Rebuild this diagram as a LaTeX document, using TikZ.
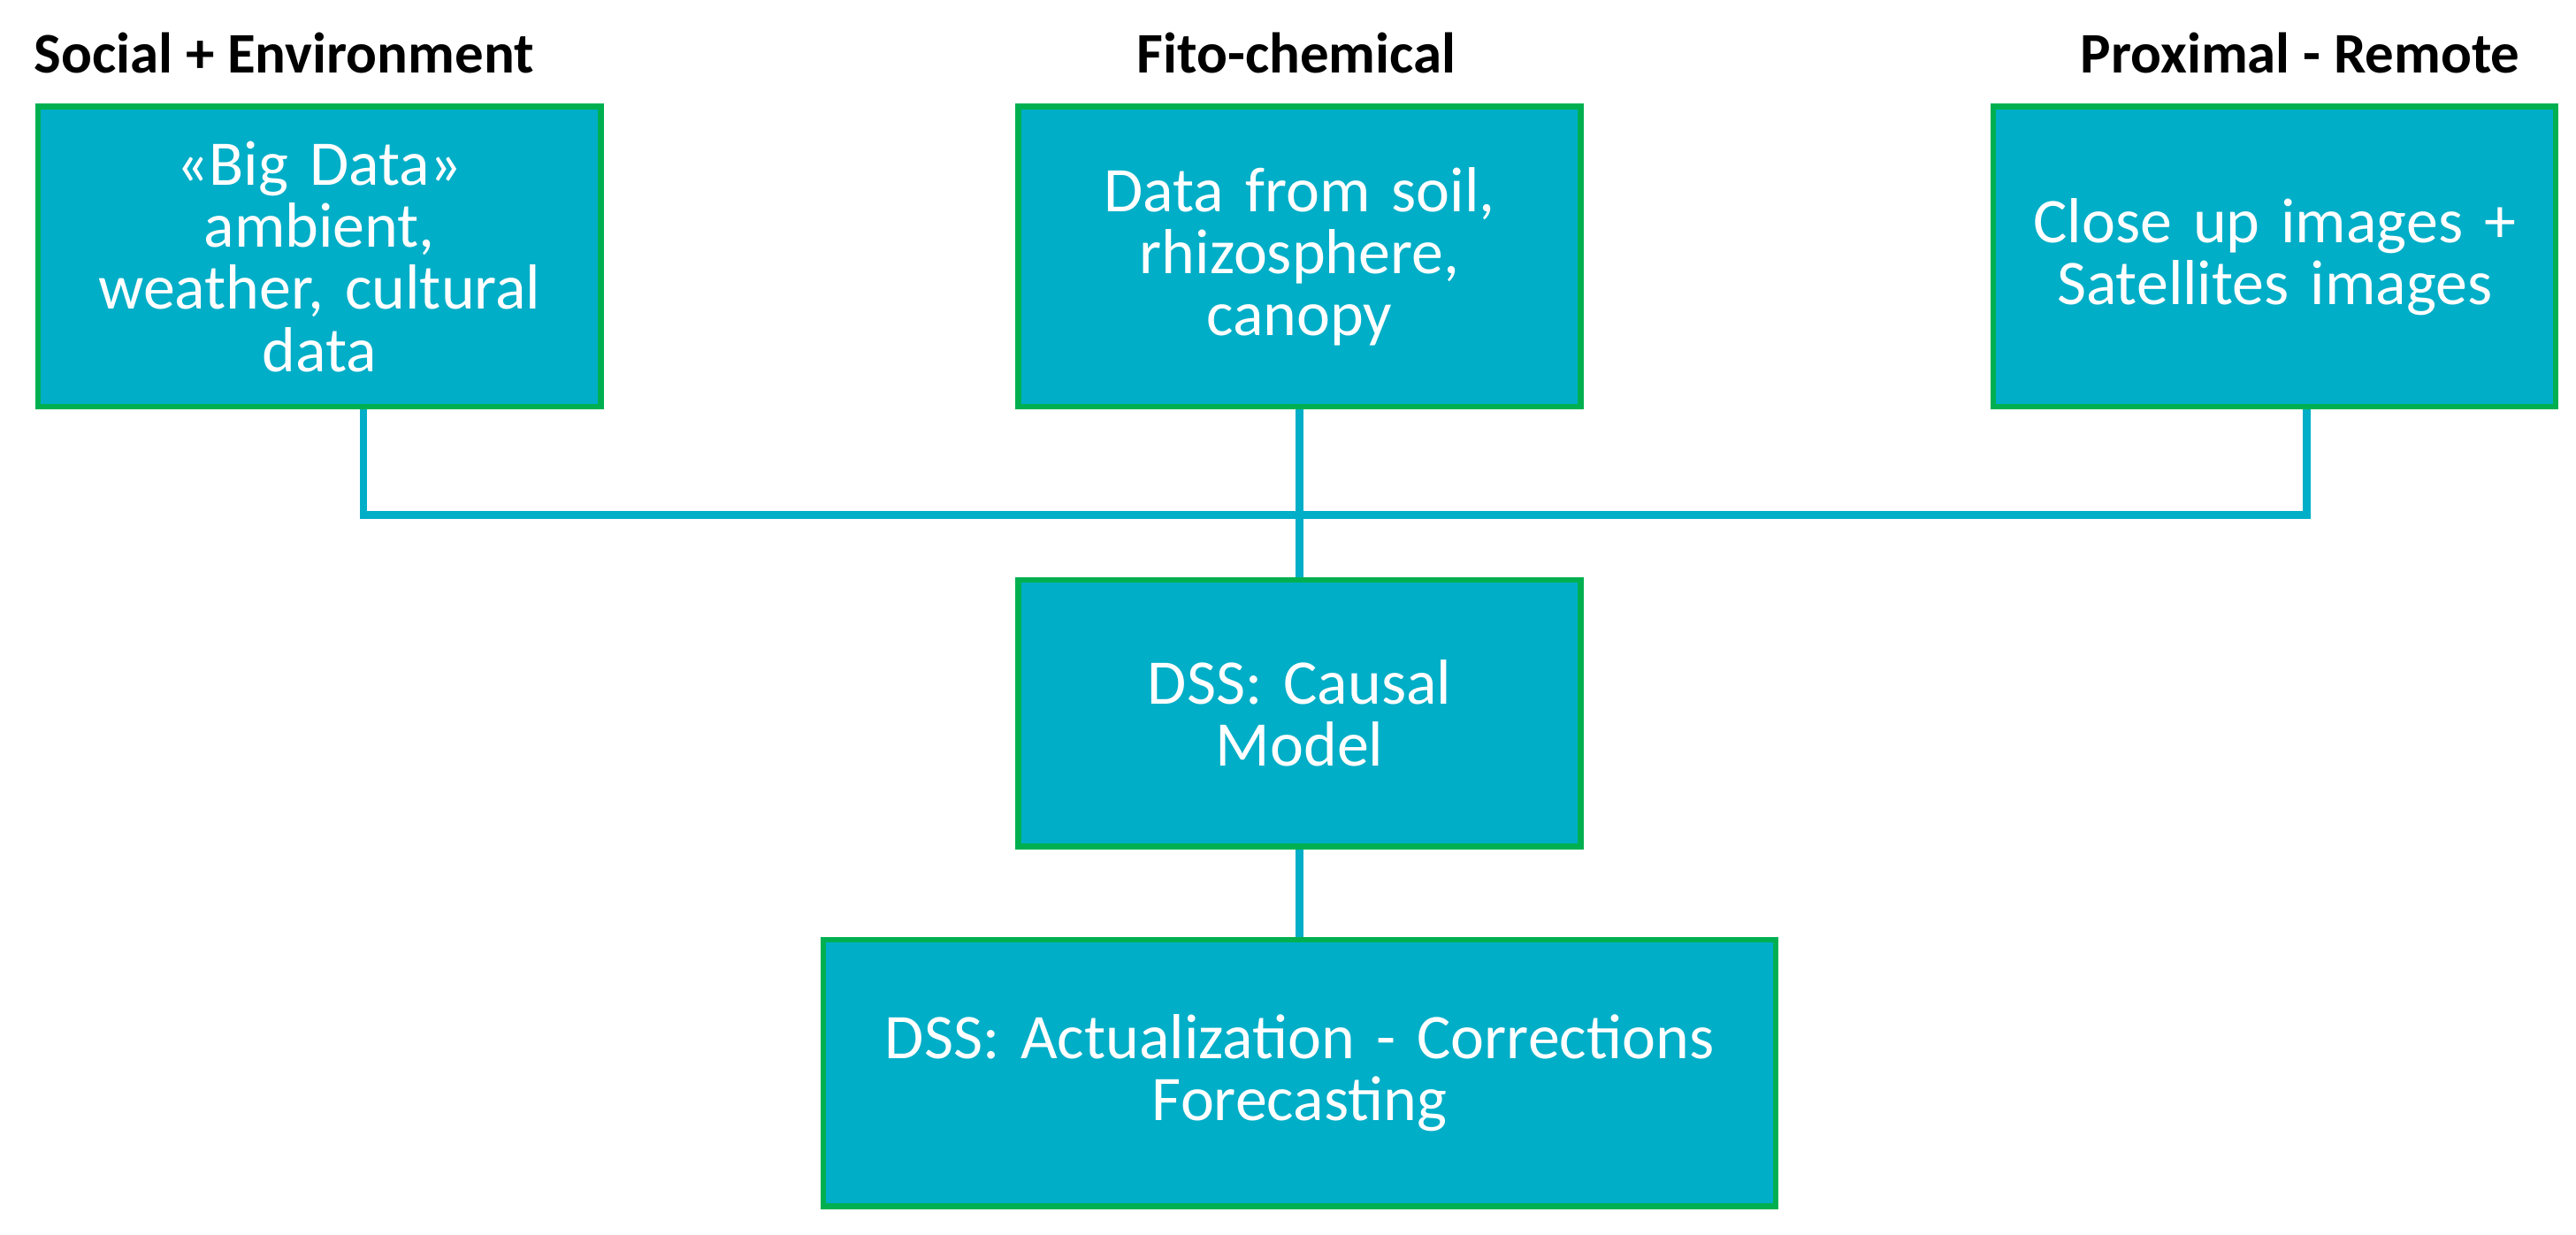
\documentclass[tikz,border=0pt]{standalone}
\usepackage{fontspec}
\setmainfont{Carlito}
\usetikzlibrary{positioning}
\definecolor{boxfill}{RGB}{0,174,199}
\definecolor{boxline}{RGB}{0,176,80}
\tikzset{
  databox/.style={draw=boxline, line width=1.8pt, fill=boxfill, text=white,
    font=\fontsize{20.5}{20}\selectfont, align=center, inner sep=1pt},
  head/.style={font=\bfseries\fontsize{18.5}{20}\selectfont, text=black},
  link/.style={draw=boxfill, line width=2.4pt}
}
\begin{document}
\begin{tikzpicture}[x=0.187mm, y=-0.187mm]
    \useasboundingbox (0,0) rectangle (1560,748);
    % Source boxes
    \node[databox, minimum width=63.5mm, minimum height=34mm, text width=63mm] (social) at (193.5,155.5)
        {«Big Data»\\ambient,\\weather, cultural\\data};
    \node[databox, minimum width=63.5mm, minimum height=34mm, text width=63mm] (fito) at (787,155.5)
        {Data from soil,\\rhizosphere,\\canopy};
    \node[databox, minimum width=63.5mm, minimum height=34mm, text width=63mm] (remote) at (1377.5,155.5)
        {Close up images +\\Satellites images};
    % Headings
    \node[head] (hsocial) at (172,32) {Social + Environment};
    \node[head] (hfito) at (785,32) {Fito-chemical};
    \node[head] (hremote) at (1393,32) {Proximal - Remote};
    % DSS boxes
    \node[databox, minimum width=63.5mm, minimum height=30.2mm, text width=63mm] (causal) at (787,432)
        {DSS: Causal\\Model};
    \node[databox, minimum width=107.8mm, minimum height=30.2mm, text width=106mm] (forecast) at (787,650)
        {DSS: Actualization - Corrections\\Forecasting};
    % Connectors
    \coordinate (jleft) at (220,312);
    \coordinate (jright) at (1397,312);
    \draw[link] (social.south -| jleft) -- (jleft) -- (jright) -- (remote.south -| jright);
    \draw[link] (fito) -- (causal);
    \draw[link] (causal) -- (forecast);
\end{tikzpicture}
\end{document}
